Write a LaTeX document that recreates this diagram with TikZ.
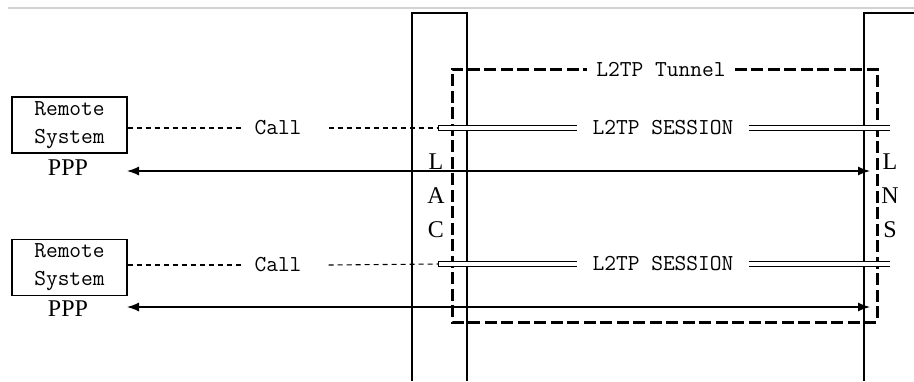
\documentclass[tikz,border=0pt]{standalone}
\usepackage{fontspec}
\newfontfamily\serifb{Liberation Serif}
\usetikzlibrary{arrows.meta}

\begin{document}
\begin{tikzpicture}[x=1pt,y=-1pt,
  txt/.style={font=\ttfamily\fontsize{22.8}{28}\selectfont, inner sep=0pt},
  serif/.style={font=\serifb\fontsize{24}{34}\selectfont, inner sep=0pt},
  thin/.style={line width=1.3pt},
  callline/.style={dash pattern=on 5pt off 4pt, line width=1.1pt},
  session/.style={double, double distance=4.5pt, line width=1.1pt},
  tunnel/.style={dash pattern=on 12pt off 4.5pt, line width=3pt},
  ppparrow/.style={arrows={Latex[length=12pt,width=9pt]-Latex[length=12pt,width=9pt]}, line width=1.3pt}]
  \useasboundingbox (0,0) rectangle (914,381);
  \draw[gray!35, line width=1.5pt] (8,8) -- (914,8);

  % LAC and LNS columns
  \draw[thin] (412,381) -- (412,13) -- (467,13) -- (467,381);
  \draw[thin] (864,381) -- (864,13) -- (914,13);
  \node (lac) at (436,196) [serif, align=center] {L\\A\\C};
  \node (lns) at (890,196) [serif, align=center] {L\\N\\S};

  % tunnel
  \node (tunlbl) at (661,69) [txt, inner xsep=9pt] {L2TP Tunnel};
  \draw[tunnel] (tunlbl.east) -- (877,69) -- (877,322) -- (452,322) -- (452,69) -- (tunlbl.west);

  % first remote system
  \node (rem1) at (69.5,125) [draw, thin, minimum width=115pt, minimum height=56pt, txt, align=center] {Remote\\System};
  \node (ppp1) at (68,168) [serif] {PPP};
  \node (call1) at (278,128) [txt] {Call};
  \node (ses1) at (663,128) [txt, inner xsep=15pt] {L2TP SESSION};
  \coordinate (ses1w) at (438,128);
  \coordinate (ses1e) at (890,128);
  \draw[callline] (rem1.east |- call1) -- ([xshift=-13pt]call1.west);
  \draw[callline] ([xshift=27pt]call1.east) -- (ses1w);
  \draw[session] (ses1w) -- (ses1.west);
  \draw[session] (ses1.east) -- (ses1e);
  \draw[line width=1pt] ([yshift=-3.3pt]ses1w) -- ([yshift=3.3pt]ses1w);
  \coordinate (p1l) at (127,171);
  \coordinate (p1r) at (870,171);
  \draw[ppparrow] (p1l) -- (p1r);

  % second remote system
  \node (rem2) at (69.5,267.5) [draw, thin, minimum width=115pt, minimum height=56pt, txt, align=center] {Remote\\System};
  \node (ppp2) at (68,309) [serif] {PPP};
  \node (call2) at (278,265) [txt] {Call};
  \node (ses2) at (663,264) [txt, inner xsep=15pt] {L2TP SESSION};
  \coordinate (ses2w) at (438,264);
  \coordinate (ses2e) at (890,264);
  \draw[callline] (rem2.east |- call2) -- ([xshift=-13pt]call2.west);
  \draw[callline] ([xshift=27pt]call2.east) -- (ses2w);
  \draw[session] (ses2w) -- (ses2.west);
  \draw[session] (ses2.east) -- (ses2e);
  \draw[line width=1pt] ([yshift=-3.3pt]ses2w) -- ([yshift=3.3pt]ses2w);
  \coordinate (p2l) at (127,307);
  \coordinate (p2r) at (870,307);
  \draw[ppparrow] (p2l) -- (p2r);
\end{tikzpicture}
\end{document}
